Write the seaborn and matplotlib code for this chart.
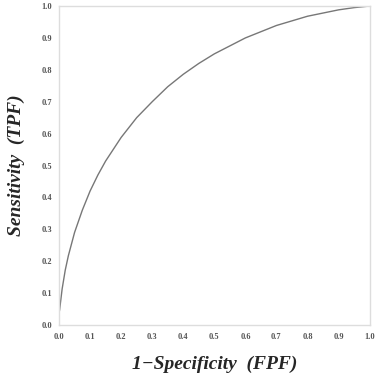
import matplotlib
matplotlib.use("Agg")
import matplotlib.pyplot as plt
import seaborn as sns
import pandas as pd

# ROC curve points
fpf = [0.0, 0.002, 0.005, 0.01, 0.02, 0.03, 0.05, 0.075, 0.1, 0.125, 0.15,
       0.2, 0.25, 0.3, 0.35, 0.4, 0.45, 0.5, 0.6, 0.7, 0.8, 0.9, 0.95, 1.0]
tpf = [0.038, 0.048, 0.073, 0.113, 0.172, 0.217, 0.29, 0.36, 0.42, 0.47, 0.514,
       0.588, 0.65, 0.70, 0.747, 0.786, 0.82, 0.85, 0.90, 0.939, 0.968, 0.988, 0.995, 1.0]
x_ticks = [0.0, 0.1, 0.2, 0.3, 0.4, 0.5, 0.6, 0.7, 0.8, 0.9, 1.0]
x_labels = ["0.0", "0.1", "0.2", "0.3", "0.4", "0.5", "0.6", "0.7", "0.8", "0.9", "1.0"]
y_ticks = [0.0, 0.1, 0.2, 0.3, 0.4, 0.5, 0.6, 0.7, 0.8, 0.9, 1.0]
y_labels = ["0.0", "0.1", "0.2", "0.3", "0.4", "0.5", "0.6", "0.7", "0.8", "0.9", "1.0"]

df = pd.DataFrame({"FPF": fpf, "TPF": tpf})

sns.set_style("white")
plt.rcParams["font.family"] = ["Liberation Serif", "DejaVu Serif"]

fig = plt.figure(figsize=(3.76, 3.77), dpi=100)
ax = fig.add_axes([0.157, 0.138, 0.826, 0.846])

sns.lineplot(data=df, x="FPF", y="TPF", ax=ax, color="#777777", linewidth=1.0)

ax.set_xlim(0, 1)
ax.set_ylim(0, 1)
ax.set_xticks(x_ticks)
ax.set_xticklabels(x_labels)
ax.set_yticks(y_ticks)
ax.set_yticklabels(y_labels)
ax.tick_params(axis="both", length=0, labelsize=6, labelcolor="#555555")
ax.tick_params(axis="x", pad=6)
ax.tick_params(axis="y", pad=5)
for lab in ax.get_xticklabels() + ax.get_yticklabels():
    lab.set_fontweight("bold")

for sp in ax.spines.values():
    sp.set_color("#dddddd")
    sp.set_linewidth(1.0)

ax.set_xlabel("1\u2212Specificity  (FPF)", fontsize=14, fontweight="bold",
              fontstyle="italic", labelpad=10)
ax.set_ylabel("Sensitivity  (TPF)", fontsize=14, fontweight="bold",
              fontstyle="italic", labelpad=12)

fig.savefig("out.png", dpi=100)
